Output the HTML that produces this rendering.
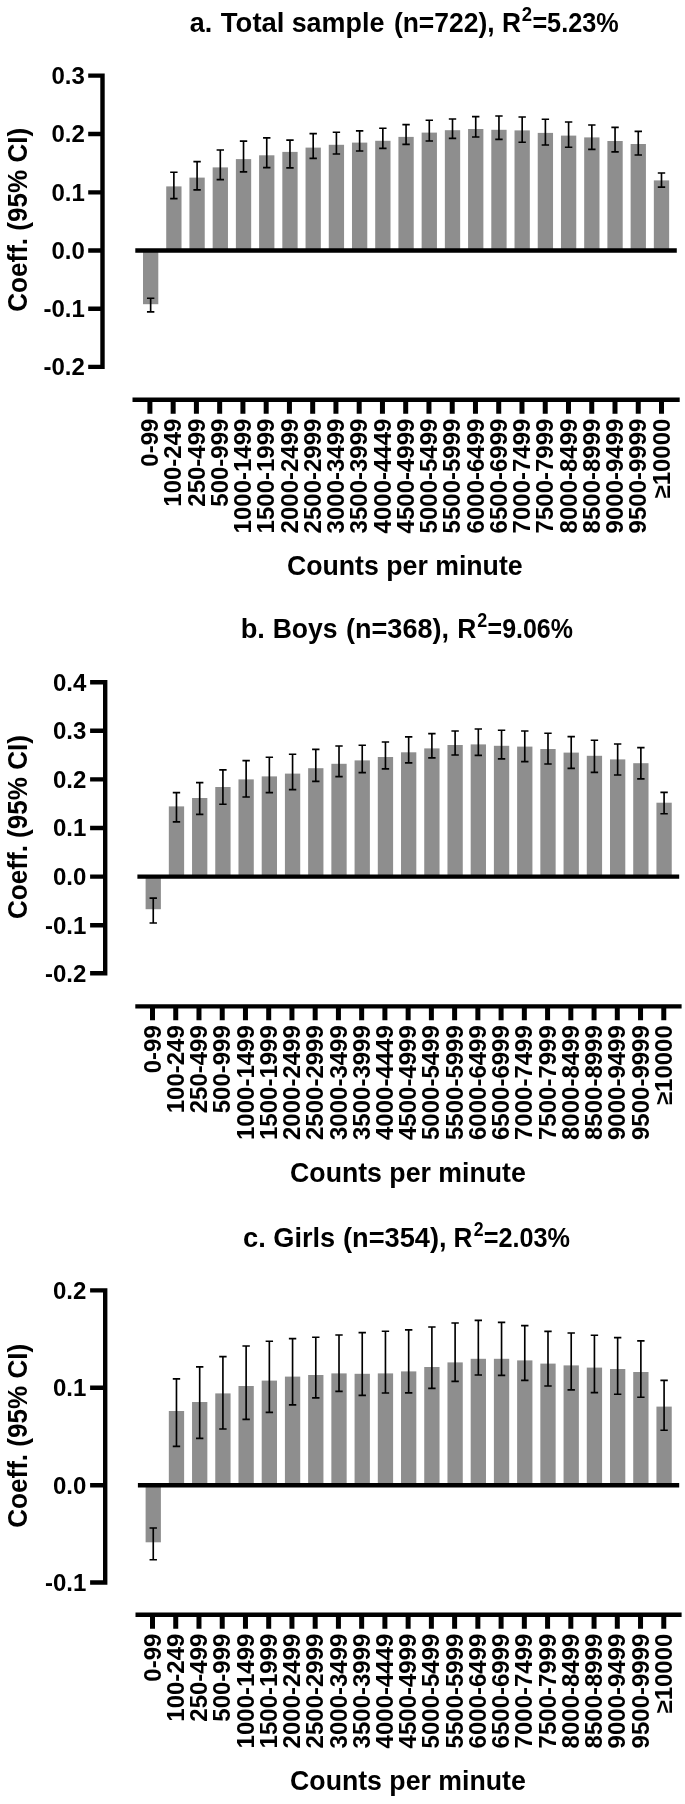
<!DOCTYPE html>
<html lang="en"><head><meta charset="utf-8"><title>Coefficients by counts per minute</title>
<style>
html,body{margin:0;padding:0;background:#fff}
body{width:685px;height:1804px;overflow:hidden}
svg{display:block;filter:blur(0.35px)}
text{font-family:"Liberation Sans",Arial,Helvetica,sans-serif;font-weight:700;fill:#000}
.t{font-size:26.9px}
.k{font-size:24px}
.a{font-size:26.7px}
.y{font-size:26.1px}
.s{font-size:18.8px}
.bar{fill:#8e8e8e}
.ax{stroke:#000;stroke-width:4.4;fill:none}
.e{stroke:#000;stroke-width:1.65;fill:none}
</style></head><body>
<svg width="685" height="1804" viewBox="0 0 685 1804">
<rect width="685" height="1804" fill="#fff"/>

<g>
<text class="t" transform="translate(189.79 32.4) scale(1.0000 1.04)">a.</text>
<text class="t" transform="translate(220.82 32.4) scale(1.0229 1.04)">Total</text>
<text class="t" transform="translate(291.66 32.4) scale(1.0001 1.04)">sample</text>
<text class="t" transform="translate(393.88 32.4) scale(0.9833 1.04)">(n=722),</text>
<text class="t" transform="translate(502.09 32.4) scale(0.9777 1.04)">R</text>
<text class="s" transform="translate(521.85 20.6) scale(0.9863 1.04)">2</text>
<text class="t" transform="translate(532.39 32.4) scale(0.9374 1.04)">=5.23%</text>
<rect class="bar" x="143" y="250.5" width="15.3" height="53.7"/>
<rect class="bar" x="166.22" y="186.4" width="15.3" height="64.1"/>
<rect class="bar" x="189.44" y="177.6" width="15.3" height="72.9"/>
<rect class="bar" x="212.66" y="167.4" width="15.3" height="83.1"/>
<rect class="bar" x="235.88" y="159.1" width="15.3" height="91.4"/>
<rect class="bar" x="259.1" y="155.3" width="15.3" height="95.2"/>
<rect class="bar" x="282.32" y="151.9" width="15.3" height="98.6"/>
<rect class="bar" x="305.54" y="147.6" width="15.3" height="102.9"/>
<rect class="bar" x="328.76" y="144.8" width="15.3" height="105.7"/>
<rect class="bar" x="351.98" y="142.6" width="15.3" height="107.9"/>
<rect class="bar" x="375.2" y="140.8" width="15.3" height="109.7"/>
<rect class="bar" x="398.42" y="136.9" width="15.3" height="113.6"/>
<rect class="bar" x="421.64" y="132.6" width="15.3" height="117.9"/>
<rect class="bar" x="444.86" y="130.2" width="15.3" height="120.3"/>
<rect class="bar" x="468.08" y="129" width="15.3" height="121.5"/>
<rect class="bar" x="491.3" y="129.8" width="15.3" height="120.7"/>
<rect class="bar" x="514.52" y="130.4" width="15.3" height="120.1"/>
<rect class="bar" x="537.74" y="132.9" width="15.3" height="117.6"/>
<rect class="bar" x="560.96" y="135.6" width="15.3" height="114.9"/>
<rect class="bar" x="584.18" y="137.4" width="15.3" height="113.1"/>
<rect class="bar" x="607.4" y="141" width="15.3" height="109.5"/>
<rect class="bar" x="630.62" y="144" width="15.3" height="106.5"/>
<rect class="bar" x="653.84" y="180.4" width="15.3" height="70.1"/>
<path class="e" d="M150.65 298.2V311.8M146.95 298.2h7.4M146.95 311.8h7.4M173.87 172.2V198.6M170.17 172.2h7.4M170.17 198.6h7.4M197.09 161.6V189.8M193.39 161.6h7.4M193.39 189.8h7.4M220.31 150V179.6M216.61 150h7.4M216.61 179.6h7.4M243.53 141.1V171.9M239.83 141.1h7.4M239.83 171.9h7.4M266.75 137.8V167.6M263.05 137.8h7.4M263.05 167.6h7.4M289.97 140.1V167.8M286.27 140.1h7.4M286.27 167.8h7.4M313.19 133.6V158.4M309.49 133.6h7.4M309.49 158.4h7.4M336.41 132.2V154M332.71 132.2h7.4M332.71 154h7.4M359.63 130.8V151M355.93 130.8h7.4M355.93 151h7.4M382.85 128.2V148.4M379.15 128.2h7.4M379.15 148.4h7.4M406.07 124.6V144.4M402.37 124.6h7.4M402.37 144.4h7.4M429.29 120.2V141M425.59 120.2h7.4M425.59 141h7.4M452.51 119V138.4M448.81 119h7.4M448.81 138.4h7.4M475.73 116.6V137M472.03 116.6h7.4M472.03 137h7.4M498.95 116V139.4M495.25 116h7.4M495.25 139.4h7.4M522.17 117V142.2M518.47 117h7.4M518.47 142.2h7.4M545.39 119.2V145M541.69 119.2h7.4M541.69 145h7.4M568.61 122V147.2M564.91 122h7.4M564.91 147.2h7.4M591.83 125V149.4M588.13 125h7.4M588.13 149.4h7.4M615.05 127.4V151.8M611.35 127.4h7.4M611.35 151.8h7.4M638.27 131.4V155M634.57 131.4h7.4M634.57 155h7.4M661.49 173V187.1M657.79 173h7.4M657.79 187.1h7.4"/>
<path class="ax" d="M135.3 250.5H676.8"/>
<path class="ax" d="M102.5 73.4V369.1M88.2 75.6H102.5M88.2 134H102.5M88.2 192.4H102.5M88.2 250.5H102.5M88.2 308.8H102.5M88.2 366.9H102.5"/>
<text class="k" text-anchor="end" x="84.8" y="84">0.3</text>
<text class="k" text-anchor="end" x="84.8" y="142.4">0.2</text>
<text class="k" text-anchor="end" x="84.8" y="200.8">0.1</text>
<text class="k" text-anchor="end" x="84.8" y="258.9">0.0</text>
<text class="k" text-anchor="end" x="84.8" y="317.2">-0.1</text>
<text class="k" text-anchor="end" x="84.8" y="375.3">-0.2</text>
<text class="y" text-anchor="middle" transform="translate(26.9 219.8) rotate(-90) scale(1 1.04)">Coeff. (95% CI)</text>
<path class="ax" d="M132.5 399.8H679.7"/>
<path class="ax" style="stroke-width:5" d="M149.9 399.8V413.7M173.16 399.8V413.7M196.41 399.8V413.7M219.67 399.8V413.7M242.92 399.8V413.7M266.18 399.8V413.7M289.43 399.8V413.7M312.69 399.8V413.7M335.94 399.8V413.7M359.19 399.8V413.7M382.45 399.8V413.7M405.7 399.8V413.7M428.96 399.8V413.7M452.22 399.8V413.7M475.47 399.8V413.7M498.73 399.8V413.7M521.98 399.8V413.7M545.24 399.8V413.7M568.49 399.8V413.7M591.75 399.8V413.7M615 399.8V413.7M638.25 399.8V413.7M661.51 399.8V413.7"/>
<text class="k" text-anchor="end" transform="translate(158 418.6) rotate(-90)">0-99</text>
<text class="k" text-anchor="end" transform="translate(181.25 418.6) rotate(-90)">100-249</text>
<text class="k" text-anchor="end" transform="translate(204.51 418.6) rotate(-90)">250-499</text>
<text class="k" text-anchor="end" transform="translate(227.77 418.6) rotate(-90)">500-999</text>
<text class="k" text-anchor="end" transform="translate(251.02 418.6) rotate(-90)">1000-1499</text>
<text class="k" text-anchor="end" transform="translate(274.28 418.6) rotate(-90)">1500-1999</text>
<text class="k" text-anchor="end" transform="translate(297.53 418.6) rotate(-90)">2000-2499</text>
<text class="k" text-anchor="end" transform="translate(320.79 418.6) rotate(-90)">2500-2999</text>
<text class="k" text-anchor="end" transform="translate(344.04 418.6) rotate(-90)">3000-3499</text>
<text class="k" text-anchor="end" transform="translate(367.3 418.6) rotate(-90)">3500-3999</text>
<text class="k" text-anchor="end" transform="translate(390.55 418.6) rotate(-90)">4000-4449</text>
<text class="k" text-anchor="end" transform="translate(413.81 418.6) rotate(-90)">4500-4999</text>
<text class="k" text-anchor="end" transform="translate(437.06 418.6) rotate(-90)">5000-5499</text>
<text class="k" text-anchor="end" transform="translate(460.32 418.6) rotate(-90)">5500-5999</text>
<text class="k" text-anchor="end" transform="translate(483.57 418.6) rotate(-90)">6000-6499</text>
<text class="k" text-anchor="end" transform="translate(506.83 418.6) rotate(-90)">6500-6999</text>
<text class="k" text-anchor="end" transform="translate(530.08 418.6) rotate(-90)">7000-7499</text>
<text class="k" text-anchor="end" transform="translate(553.34 418.6) rotate(-90)">7500-7999</text>
<text class="k" text-anchor="end" transform="translate(576.59 418.6) rotate(-90)">8000-8499</text>
<text class="k" text-anchor="end" transform="translate(599.85 418.6) rotate(-90)">8500-8999</text>
<text class="k" text-anchor="end" transform="translate(623.1 418.6) rotate(-90)">9000-9499</text>
<text class="k" text-anchor="end" transform="translate(646.36 418.6) rotate(-90)">9500-9999</text>
<text class="k" text-anchor="end" transform="translate(669.61 418.6) rotate(-90)">≥10000</text>
<text class="a" text-anchor="middle" transform="translate(404.8 574.8) scale(1 1.04)">Counts per minute</text>
</g>
<g>
<text class="t" transform="translate(240.63 638.4) scale(1.0143 1.04)">b.</text>
<text class="t" transform="translate(272.67 638.4) scale(0.9881 1.04)">Boys</text>
<text class="t" transform="translate(346.05 638.4) scale(1.0054 1.04)">(n=368),</text>
<text class="t" transform="translate(457.18 638.4) scale(0.9835 1.04)">R</text>
<text class="s" transform="translate(477.37 626.6) scale(0.9530 1.04)">2</text>
<text class="t" transform="translate(487.6 638.4) scale(0.9285 1.04)">=9.06%</text>
<rect class="bar" x="145.6" y="876.6" width="15.3" height="32.6"/>
<rect class="bar" x="168.82" y="806.4" width="15.3" height="70.2"/>
<rect class="bar" x="192.04" y="798" width="15.3" height="78.6"/>
<rect class="bar" x="215.26" y="787" width="15.3" height="89.6"/>
<rect class="bar" x="238.48" y="779.4" width="15.3" height="97.2"/>
<rect class="bar" x="261.7" y="776.4" width="15.3" height="100.2"/>
<rect class="bar" x="284.92" y="773.6" width="15.3" height="103"/>
<rect class="bar" x="308.14" y="768.2" width="15.3" height="108.4"/>
<rect class="bar" x="331.36" y="763.8" width="15.3" height="112.8"/>
<rect class="bar" x="354.58" y="760.4" width="15.3" height="116.2"/>
<rect class="bar" x="377.8" y="757" width="15.3" height="119.6"/>
<rect class="bar" x="401.02" y="752.3" width="15.3" height="124.3"/>
<rect class="bar" x="424.24" y="748.4" width="15.3" height="128.2"/>
<rect class="bar" x="447.46" y="745" width="15.3" height="131.6"/>
<rect class="bar" x="470.68" y="744.4" width="15.3" height="132.2"/>
<rect class="bar" x="493.9" y="745.8" width="15.3" height="130.8"/>
<rect class="bar" x="517.12" y="746.6" width="15.3" height="130"/>
<rect class="bar" x="540.34" y="749" width="15.3" height="127.6"/>
<rect class="bar" x="563.56" y="752.6" width="15.3" height="124"/>
<rect class="bar" x="586.78" y="755.8" width="15.3" height="120.8"/>
<rect class="bar" x="610" y="759.4" width="15.3" height="117.2"/>
<rect class="bar" x="633.22" y="763.2" width="15.3" height="113.4"/>
<rect class="bar" x="656.44" y="802.7" width="15.3" height="73.9"/>
<path class="e" d="M153.25 898.1V923M149.55 898.1h7.4M149.55 923h7.4M176.47 792.6V821.8M172.77 792.6h7.4M172.77 821.8h7.4M199.69 782.6V814.4M195.99 782.6h7.4M195.99 814.4h7.4M222.91 769.8V804.2M219.21 769.8h7.4M219.21 804.2h7.4M246.13 760.6V797M242.43 760.6h7.4M242.43 797h7.4M269.35 757.2V792.6M265.65 757.2h7.4M265.65 792.6h7.4M292.57 754.2V789.6M288.87 754.2h7.4M288.87 789.6h7.4M315.79 749.4V781.4M312.09 749.4h7.4M312.09 781.4h7.4M339.01 746V776.6M335.31 746h7.4M335.31 776.6h7.4M362.23 745.2V772.6M358.53 745.2h7.4M358.53 772.6h7.4M385.45 742V768.8M381.75 742h7.4M381.75 768.8h7.4M408.67 736.8V762.8M404.97 736.8h7.4M404.97 762.8h7.4M431.89 733.6V757.8M428.19 733.6h7.4M428.19 757.8h7.4M455.11 731V755M451.41 731h7.4M451.41 755h7.4M478.33 729V755.4M474.63 729h7.4M474.63 755.4h7.4M501.55 730.2V758.8M497.85 730.2h7.4M497.85 758.8h7.4M524.77 731V761.6M521.07 731h7.4M521.07 761.6h7.4M547.99 733.2V764M544.29 733.2h7.4M544.29 764h7.4M571.21 736.6V768.4M567.51 736.6h7.4M567.51 768.4h7.4M594.43 740.2V772.4M590.73 740.2h7.4M590.73 772.4h7.4M617.65 744V775M613.95 744h7.4M613.95 775h7.4M640.87 747.6V778.8M637.17 747.6h7.4M637.17 778.8h7.4M664.09 792.3V813.7M660.39 792.3h7.4M660.39 813.7h7.4"/>
<path class="ax" d="M137.4 876.6H679.2"/>
<path class="ax" d="M105.2 680V975.5M90.1 682.2H105.2M90.1 730.8H105.2M90.1 779.4H105.2M90.1 828H105.2M90.1 876.6H105.2M90.1 925.2H105.2M90.1 973.3H105.2"/>
<text class="k" text-anchor="end" x="86.3" y="690.6">0.4</text>
<text class="k" text-anchor="end" x="86.3" y="739.2">0.3</text>
<text class="k" text-anchor="end" x="86.3" y="787.8">0.2</text>
<text class="k" text-anchor="end" x="86.3" y="836.4">0.1</text>
<text class="k" text-anchor="end" x="86.3" y="885">0.0</text>
<text class="k" text-anchor="end" x="86.3" y="933.6">-0.1</text>
<text class="k" text-anchor="end" x="86.3" y="981.7">-0.2</text>
<text class="y" text-anchor="middle" transform="translate(26.9 827) rotate(-90) scale(1 1.04)">Coeff. (95% CI)</text>
<path class="ax" d="M135.3 1006.4H681.6"/>
<path class="ax" style="stroke-width:5" d="M152.5 1006.4V1020.3M175.74 1006.4V1020.3M198.98 1006.4V1020.3M222.22 1006.4V1020.3M245.46 1006.4V1020.3M268.7 1006.4V1020.3M291.94 1006.4V1020.3M315.18 1006.4V1020.3M338.42 1006.4V1020.3M361.66 1006.4V1020.3M384.9 1006.4V1020.3M408.14 1006.4V1020.3M431.38 1006.4V1020.3M454.62 1006.4V1020.3M477.86 1006.4V1020.3M501.1 1006.4V1020.3M524.34 1006.4V1020.3M547.58 1006.4V1020.3M570.82 1006.4V1020.3M594.06 1006.4V1020.3M617.3 1006.4V1020.3M640.54 1006.4V1020.3M663.78 1006.4V1020.3"/>
<text class="k" text-anchor="end" transform="translate(160.6 1025.2) rotate(-90)">0-99</text>
<text class="k" text-anchor="end" transform="translate(183.84 1025.2) rotate(-90)">100-249</text>
<text class="k" text-anchor="end" transform="translate(207.08 1025.2) rotate(-90)">250-499</text>
<text class="k" text-anchor="end" transform="translate(230.32 1025.2) rotate(-90)">500-999</text>
<text class="k" text-anchor="end" transform="translate(253.56 1025.2) rotate(-90)">1000-1499</text>
<text class="k" text-anchor="end" transform="translate(276.8 1025.2) rotate(-90)">1500-1999</text>
<text class="k" text-anchor="end" transform="translate(300.04 1025.2) rotate(-90)">2000-2499</text>
<text class="k" text-anchor="end" transform="translate(323.28 1025.2) rotate(-90)">2500-2999</text>
<text class="k" text-anchor="end" transform="translate(346.52 1025.2) rotate(-90)">3000-3499</text>
<text class="k" text-anchor="end" transform="translate(369.76 1025.2) rotate(-90)">3500-3999</text>
<text class="k" text-anchor="end" transform="translate(393 1025.2) rotate(-90)">4000-4449</text>
<text class="k" text-anchor="end" transform="translate(416.24 1025.2) rotate(-90)">4500-4999</text>
<text class="k" text-anchor="end" transform="translate(439.48 1025.2) rotate(-90)">5000-5499</text>
<text class="k" text-anchor="end" transform="translate(462.72 1025.2) rotate(-90)">5500-5999</text>
<text class="k" text-anchor="end" transform="translate(485.96 1025.2) rotate(-90)">6000-6499</text>
<text class="k" text-anchor="end" transform="translate(509.2 1025.2) rotate(-90)">6500-6999</text>
<text class="k" text-anchor="end" transform="translate(532.44 1025.2) rotate(-90)">7000-7499</text>
<text class="k" text-anchor="end" transform="translate(555.68 1025.2) rotate(-90)">7500-7999</text>
<text class="k" text-anchor="end" transform="translate(578.92 1025.2) rotate(-90)">8000-8499</text>
<text class="k" text-anchor="end" transform="translate(602.16 1025.2) rotate(-90)">8500-8999</text>
<text class="k" text-anchor="end" transform="translate(625.4 1025.2) rotate(-90)">9000-9499</text>
<text class="k" text-anchor="end" transform="translate(648.64 1025.2) rotate(-90)">9500-9999</text>
<text class="k" text-anchor="end" transform="translate(671.88 1025.2) rotate(-90)">≥10000</text>
<text class="a" text-anchor="middle" transform="translate(407.9 1181.8) scale(1 1.04)">Counts per minute</text>
</g>
<g>
<text class="t" transform="translate(243.01 1247.3) scale(1.0153 1.04)">c.</text>
<text class="t" transform="translate(273.31 1247.3) scale(1.0094 1.04)">Girls</text>
<text class="t" transform="translate(343.04 1247.3) scale(1.0115 1.04)">(n=354),</text>
<text class="t" transform="translate(453.6 1247.3) scale(0.9718 1.04)">R</text>
<text class="s" transform="translate(473.78 1235.5) scale(0.9419 1.04)">2</text>
<text class="t" transform="translate(483.69 1247.3) scale(0.9396 1.04)">=2.03%</text>
<rect class="bar" x="145.6" y="1485.2" width="15.3" height="57.1"/>
<rect class="bar" x="168.82" y="1411" width="15.3" height="74.2"/>
<rect class="bar" x="192.04" y="1402" width="15.3" height="83.2"/>
<rect class="bar" x="215.26" y="1393.4" width="15.3" height="91.8"/>
<rect class="bar" x="238.48" y="1386" width="15.3" height="99.2"/>
<rect class="bar" x="261.7" y="1380.6" width="15.3" height="104.6"/>
<rect class="bar" x="284.92" y="1376.6" width="15.3" height="108.6"/>
<rect class="bar" x="308.14" y="1375" width="15.3" height="110.2"/>
<rect class="bar" x="331.36" y="1373.4" width="15.3" height="111.8"/>
<rect class="bar" x="354.58" y="1373.8" width="15.3" height="111.4"/>
<rect class="bar" x="377.8" y="1373.4" width="15.3" height="111.8"/>
<rect class="bar" x="401.02" y="1371.4" width="15.3" height="113.8"/>
<rect class="bar" x="424.24" y="1367" width="15.3" height="118.2"/>
<rect class="bar" x="447.46" y="1362.4" width="15.3" height="122.8"/>
<rect class="bar" x="470.68" y="1358.8" width="15.3" height="126.4"/>
<rect class="bar" x="493.9" y="1358.8" width="15.3" height="126.4"/>
<rect class="bar" x="517.12" y="1360.4" width="15.3" height="124.8"/>
<rect class="bar" x="540.34" y="1363.6" width="15.3" height="121.6"/>
<rect class="bar" x="563.56" y="1365.4" width="15.3" height="119.8"/>
<rect class="bar" x="586.78" y="1367.6" width="15.3" height="117.6"/>
<rect class="bar" x="610" y="1369" width="15.3" height="116.2"/>
<rect class="bar" x="633.22" y="1372" width="15.3" height="113.2"/>
<rect class="bar" x="656.44" y="1406.6" width="15.3" height="78.6"/>
<path class="e" d="M153.25 1528V1559.7M149.55 1528h7.4M149.55 1559.7h7.4M176.47 1378.8V1446.4M172.77 1378.8h7.4M172.77 1446.4h7.4M199.69 1366.8V1438.4M195.99 1366.8h7.4M195.99 1438.4h7.4M222.91 1356.6V1429M219.21 1356.6h7.4M219.21 1429h7.4M246.13 1346V1419.4M242.43 1346h7.4M242.43 1419.4h7.4M269.35 1341.2V1412.4M265.65 1341.2h7.4M265.65 1412.4h7.4M292.57 1338.6V1404.8M288.87 1338.6h7.4M288.87 1404.8h7.4M315.79 1337.2V1397.8M312.09 1337.2h7.4M312.09 1397.8h7.4M339.01 1335V1391.4M335.31 1335h7.4M335.31 1391.4h7.4M362.23 1332.6V1395.4M358.53 1332.6h7.4M358.53 1395.4h7.4M385.45 1331.2V1393M381.75 1331.2h7.4M381.75 1393h7.4M408.67 1329.8V1392.8M404.97 1329.8h7.4M404.97 1392.8h7.4M431.89 1327V1388.4M428.19 1327h7.4M428.19 1388.4h7.4M455.11 1323V1381.4M451.41 1323h7.4M451.41 1381.4h7.4M478.33 1320.4V1375M474.63 1320.4h7.4M474.63 1375h7.4M501.55 1322.4V1375.4M497.85 1322.4h7.4M497.85 1375.4h7.4M524.77 1325.6V1380.4M521.07 1325.6h7.4M521.07 1380.4h7.4M547.99 1331.4V1386M544.29 1331.4h7.4M544.29 1386h7.4M571.21 1333V1389.8M567.51 1333h7.4M567.51 1389.8h7.4M594.43 1335.2V1392.6M590.73 1335.2h7.4M590.73 1392.6h7.4M617.65 1337.6V1394.2M613.95 1337.6h7.4M613.95 1394.2h7.4M640.87 1340.8V1397.2M637.17 1340.8h7.4M637.17 1397.2h7.4M664.09 1380.4V1430.2M660.39 1380.4h7.4M660.39 1430.2h7.4"/>
<path class="ax" d="M137.9 1485.2H679.2"/>
<path class="ax" d="M105.2 1288.2V1584.7M90.1 1290.4H105.2M90.1 1387.8H105.2M90.1 1485.2H105.2M90.1 1582.5H105.2"/>
<text class="k" text-anchor="end" x="86.3" y="1298.8">0.2</text>
<text class="k" text-anchor="end" x="86.3" y="1396.2">0.1</text>
<text class="k" text-anchor="end" x="86.3" y="1493.6">0.0</text>
<text class="k" text-anchor="end" x="86.3" y="1590.9">-0.1</text>
<text class="y" text-anchor="middle" transform="translate(26.9 1435.8) rotate(-90) scale(1 1.04)">Coeff. (95% CI)</text>
<path class="ax" d="M135.5 1614.8H681.6"/>
<path class="ax" style="stroke-width:5" d="M152.5 1614.8V1628.7M175.74 1614.8V1628.7M198.98 1614.8V1628.7M222.22 1614.8V1628.7M245.46 1614.8V1628.7M268.7 1614.8V1628.7M291.94 1614.8V1628.7M315.18 1614.8V1628.7M338.42 1614.8V1628.7M361.66 1614.8V1628.7M384.9 1614.8V1628.7M408.14 1614.8V1628.7M431.38 1614.8V1628.7M454.62 1614.8V1628.7M477.86 1614.8V1628.7M501.1 1614.8V1628.7M524.34 1614.8V1628.7M547.58 1614.8V1628.7M570.82 1614.8V1628.7M594.06 1614.8V1628.7M617.3 1614.8V1628.7M640.54 1614.8V1628.7M663.78 1614.8V1628.7"/>
<text class="k" text-anchor="end" transform="translate(160.6 1633.6) rotate(-90)">0-99</text>
<text class="k" text-anchor="end" transform="translate(183.84 1633.6) rotate(-90)">100-249</text>
<text class="k" text-anchor="end" transform="translate(207.08 1633.6) rotate(-90)">250-499</text>
<text class="k" text-anchor="end" transform="translate(230.32 1633.6) rotate(-90)">500-999</text>
<text class="k" text-anchor="end" transform="translate(253.56 1633.6) rotate(-90)">1000-1499</text>
<text class="k" text-anchor="end" transform="translate(276.8 1633.6) rotate(-90)">1500-1999</text>
<text class="k" text-anchor="end" transform="translate(300.04 1633.6) rotate(-90)">2000-2499</text>
<text class="k" text-anchor="end" transform="translate(323.28 1633.6) rotate(-90)">2500-2999</text>
<text class="k" text-anchor="end" transform="translate(346.52 1633.6) rotate(-90)">3000-3499</text>
<text class="k" text-anchor="end" transform="translate(369.76 1633.6) rotate(-90)">3500-3999</text>
<text class="k" text-anchor="end" transform="translate(393 1633.6) rotate(-90)">4000-4449</text>
<text class="k" text-anchor="end" transform="translate(416.24 1633.6) rotate(-90)">4500-4999</text>
<text class="k" text-anchor="end" transform="translate(439.48 1633.6) rotate(-90)">5000-5499</text>
<text class="k" text-anchor="end" transform="translate(462.72 1633.6) rotate(-90)">5500-5999</text>
<text class="k" text-anchor="end" transform="translate(485.96 1633.6) rotate(-90)">6000-6499</text>
<text class="k" text-anchor="end" transform="translate(509.2 1633.6) rotate(-90)">6500-6999</text>
<text class="k" text-anchor="end" transform="translate(532.44 1633.6) rotate(-90)">7000-7499</text>
<text class="k" text-anchor="end" transform="translate(555.68 1633.6) rotate(-90)">7500-7999</text>
<text class="k" text-anchor="end" transform="translate(578.92 1633.6) rotate(-90)">8000-8499</text>
<text class="k" text-anchor="end" transform="translate(602.16 1633.6) rotate(-90)">8500-8999</text>
<text class="k" text-anchor="end" transform="translate(625.4 1633.6) rotate(-90)">9000-9499</text>
<text class="k" text-anchor="end" transform="translate(648.64 1633.6) rotate(-90)">9500-9999</text>
<text class="k" text-anchor="end" transform="translate(671.88 1633.6) rotate(-90)">≥10000</text>
<text class="a" text-anchor="middle" transform="translate(407.9 1790.4) scale(1 1.04)">Counts per minute</text>
</g>
</svg>
</body></html>
